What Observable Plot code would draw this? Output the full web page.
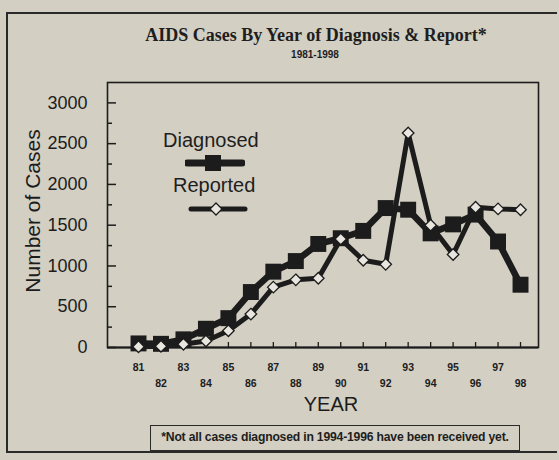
<!DOCTYPE html>
<html>
<head>
<meta charset="utf-8">
<script src="https://cdn.jsdelivr.net/npm/d3@7"></script>
<script src="https://cdn.jsdelivr.net/npm/@observablehq/plot@0.6"></script>
<style>
  html, body { margin: 0; padding: 0; }
  body { width: 559px; height: 460px; background: #d3cfc3; position: relative; overflow: hidden; font-family: "Liberation Sans", Arial, sans-serif; color: #1c1c1c; }
  #chart { position: absolute; left: 0; top: 0; }
  #outer { position: absolute; left: 6px; top: 12px; width: 551px; height: 441px; border: 2px solid #2a2a2a; border-right: none; box-sizing: border-box; }
  #title { position: absolute; left: 0; width: 632px; top: 25px; text-align: center; font-family: "Liberation Serif", "DejaVu Serif", serif; font-weight: bold; font-size: 18px; color: #1e1e1e; }
  #subtitle { position: absolute; left: 0; width: 630px; top: 49px; text-align: center; font-weight: bold; font-size: 10px; color: #1e1e1e; }
  #note { position: absolute; left: 150px; top: 425px; width: 370px; height: 26px; border: 1.5px solid #2a2a2a; box-sizing: border-box; font-size: 12.2px; font-weight: bold; line-height: 22px; text-align: center; color: #1e1e1e; letter-spacing: -0.2px; white-space: nowrap; }
  .leg { position: absolute; font-size: 20px; color: #1e1e1e; }
</style>
</head>
<body>
<div id="outer"></div>
<div id="title">AIDS Cases By Year of Diagnosis &amp; Report*</div>
<div id="subtitle">1981-1998</div>
<div id="chart"></div>
<div class="leg" style="left:163px; top:129px;">Diagnosed</div>
<svg class="leg" style="left:185px; top:153px;" width="60" height="20"><line x1="2" y1="10" x2="57" y2="10" stroke="#1c1c1c" stroke-width="7" stroke-linecap="round"/><rect x="20" y="2" width="16" height="16" fill="#1c1c1c"/></svg>
<div class="leg" style="left:173px; top:174px;">Reported</div>
<svg class="leg" style="left:188px; top:199px;" width="60" height="20"><line x1="3" y1="10" x2="57" y2="10" stroke="#1c1c1c" stroke-width="5" stroke-linecap="round"/><path d="M28 4 L34 10 L28 16 L22 10 Z" fill="#e8e6df" stroke="#1c1c1c" stroke-width="1.3"/></svg>
<div id="note">*Not all cases diagnosed in 1994-1996 have been received yet.</div>
<script>
const years = [81, 82, 83, 84, 85, 86, 87, 88, 89, 90, 91, 92, 93, 94, 95, 96, 97, 98];
const diagnosed = [50, 45, 100, 230, 360, 680, 930, 1060, 1270, 1340, 1430, 1710, 1690, 1400, 1510, 1630, 1300, 770];
const reported = [10, 15, 40, 80, 205, 410, 740, 830, 850, 1330, 1070, 1020, 2630, 1500, 1140, 1720, 1700, 1690];
const yTicks = [0, 500, 1000, 1500, 2000, 2500, 3000];
const yMinorTicks = [250, 750, 1250, 1750, 2250, 2750];
const oddYears = years.filter(y => y % 2 === 1);
const evenYears = years.filter(y => y % 2 === 0);

const diagData = years.map((y, i) => ({year: y, value: diagnosed[i]}));
const repData = years.map((y, i) => ({year: y, value: reported[i]}));

const ink = "#1c1c1c";
const plot = Plot.plot({
  width: 559,
  height: 460,
  marginLeft: 107,
  marginRight: 21,
  marginTop: 82,
  marginBottom: 113,
  style: {background: "transparent", fontFamily: "Liberation Sans, Arial, sans-serif", color: ink},
  x: {domain: [79.62, 98.8], axis: null},
  y: {domain: [0, 3250], axis: null},
  marks: [
    Plot.frame({stroke: ink, strokeWidth: 1.6}),
    Plot.ruleY([0], {stroke: ink, strokeWidth: 2.2}),
    Plot.tickY(yTicks, {y: d => d, stroke: ink, strokeWidth: 1.5, insetRight: 422}),
    Plot.tickY(yMinorTicks, {y: d => d, stroke: ink, strokeWidth: 1.5, insetRight: 426}),
    Plot.tickX(years, {x: d => d, stroke: ink, strokeWidth: 1.3, insetTop: 260}),
    Plot.axisY({ticks: yTicks, tickSize: 0, tickPadding: 20, fontSize: 18, label: null, tickFormat: d3.format("d")}),
    Plot.axisX({ticks: oddYears, tickSize: 0, tickPadding: 16, fontSize: 10.5, fontWeight: "bold", label: null, tickFormat: d => String(d)}),
    Plot.axisX({ticks: evenYears, tickSize: 0, tickPadding: 32, fontSize: 10.5, fontWeight: "bold", label: null, tickFormat: d => String(d)}),
    Plot.text(["Number of Cases"], {frameAnchor: "left", textAnchor: "middle", rotate: -90, dx: -74, dy: -4, fontSize: 21, fill: ink}),
    Plot.text(["YEAR"], {frameAnchor: "bottom", dy: 63, dx: 8, fontSize: 20, fill: ink}),
    Plot.line(diagData, {x: "year", y: "value", stroke: ink, strokeWidth: 6.5, strokeLinejoin: "miter"}),
    Plot.dot(diagData, {x: "year", y: "value", symbol: "square", r: 9, fill: ink, stroke: "none"}),
    Plot.line(repData, {x: "year", y: "value", stroke: ink, strokeWidth: 5}),
    Plot.dot(repData, {x: "year", y: "value", symbol: "diamond2", r: 5.2, fill: "#e8e6df", stroke: ink, strokeWidth: 1.3})
  ]
});
document.getElementById("chart").appendChild(plot);
</script>
</body>
</html>
